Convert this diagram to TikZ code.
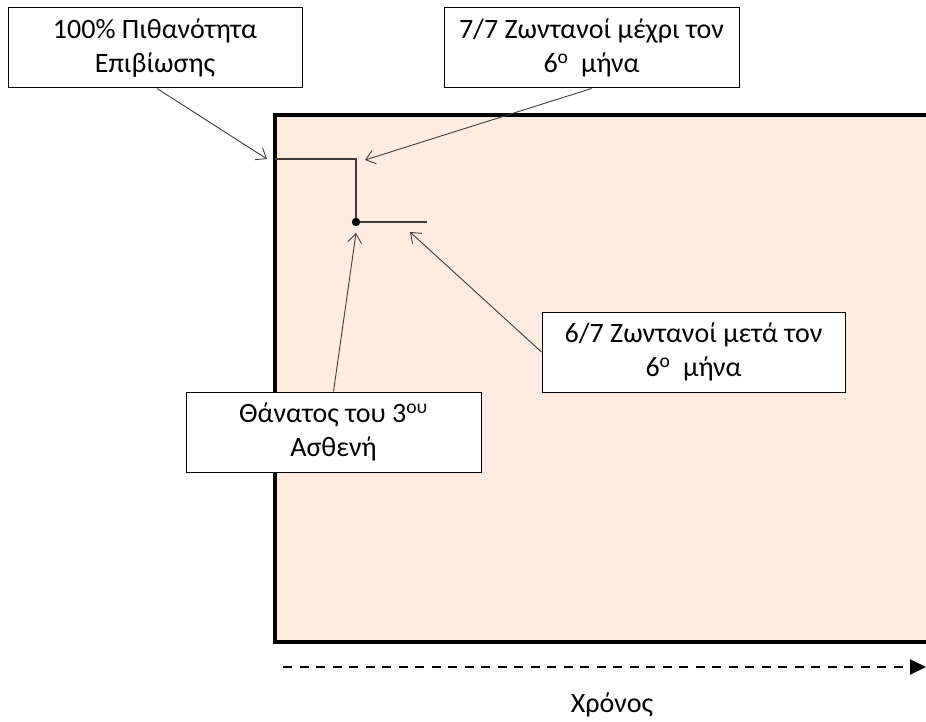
\documentclass[tikz,border=0pt]{standalone}
\usepackage{fontspec}
\setmainfont{Carlito}
\usetikzlibrary{arrows.meta}
\definecolor{peach}{RGB}{253,235,223}
\definecolor{conn}{RGB}{60,60,60}
\tikzset{
  labelbox/.style={draw=black, line width=1pt, fill=white, minimum height=80pt, inner sep=0pt,
    align=center, font=\fontsize{28}{34}\selectfont},
  pointer/.style={draw=conn, line width=0.9pt, -{Straight Barb[length=9pt,width=14pt,line width=0.9pt]}},
  curve/.style={draw=conn, line width=1.4pt},
  frameline/.style={draw=black, line width=3.5pt},
  timeaxis/.style={draw=black, line width=2pt, dash pattern=on 9pt off 7.5pt, -{Triangle[length=16pt,width=15pt]}}
}
\begin{document}
\begin{tikzpicture}[x=1pt,y=-1pt]
\useasboundingbox (0,0) rectangle (926,722);
% plot area, open on the right (it runs past the picture's edge)
\fill[peach] (275,115) rectangle (926,642);
\draw[frameline] (926,115) -- (275,115) -- (275,642) -- (926,642);
% survival curve
\coordinate (s0) at (275,159);
\coordinate (s1) at (356,159);
\coordinate (s2) at (356,222);
\coordinate (s3) at (427,222);
\draw[curve] (s0) -- (s1) -- (s2) -- (s3);
\fill (s2) circle (4.2pt);
% boxes
\node[labelbox, minimum width=294pt] (b1) at (155,48) {100\% Πιθανότητα\\Επιβίωσης};
\node[labelbox, minimum width=295pt] (b2) at (591.5,48) {7/7 Ζωντανοί μέχρι τον\\6\textsuperscript{ο}\ \ μήνα};
\node[labelbox, minimum width=295pt] (b3) at (333.5,432) {Θάνατος του 3\textsuperscript{ου}\\Ασθενή};
\node[labelbox, minimum width=303pt] (b4) at (693.5,352) {6/7 Ζωντανοί μετά τον\\6\textsuperscript{ο}\ \ μήνα};
% pointer targets
\coordinate (t1) at (267,159);
\coordinate (t2) at (365,160);
\coordinate (t3) at (356,233);
\coordinate (t4) at (410,232);
\draw[pointer] (b1.south) ++(2,0) -- (t1);
\draw[pointer] (b2.south) -- (t2);
\draw[pointer] (b3.north) -- (t3);
\draw[pointer] (b4.west) -- (t4);
% time axis
\coordinate (ax0) at (283,667);
\coordinate (ax1) at (926,667);
\draw[timeaxis] (ax0) -- (ax1);
\node[font=\fontsize{28}{34}\selectfont, anchor=base] (time) at (612,712) {Χρόνος};
\end{tikzpicture}
\end{document}
